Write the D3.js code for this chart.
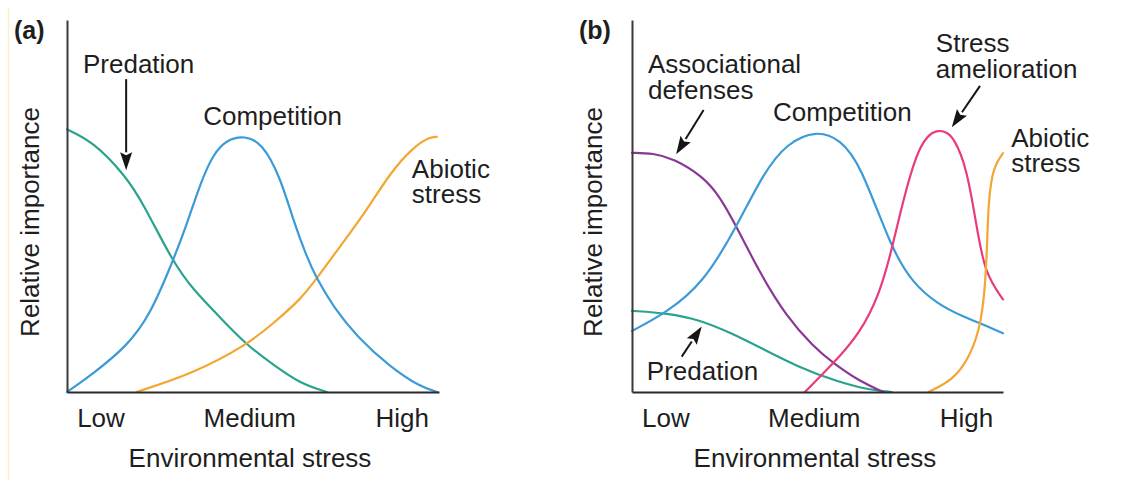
<!DOCTYPE html>
<html>
<head>
<meta charset="utf-8">
<script src="https://cdn.jsdelivr.net/npm/d3@7"></script>
<style>
  html, body { margin: 0; padding: 0; background: #ffffff; }
  svg { display: block; }
  text { font-family: "Liberation Sans", Arial, Helvetica, sans-serif; fill: #1e1e1e; }
</style>
</head>
<body>
<script>
// Shared x-axis categories (positions on a 0–100 stress scale)
const xTickPositions = [9, 49, 90];
const xTickLabels = ["Low", "Medium", "High"];

// Panel (a): relative importance (0–100) along environmental stress (0–100)
const predationA = [[0, 70.6], [7, 67.3], [15.6, 58.3], [20.5, 50.7], [28.4, 35.0], [34, 27.4],
  [41, 20.2], [48.3, 12.6], [55.5, 7.3], [62.6, 2.3], [69.8, 0]];
const competitionA = [[0, 0], [7.1, 5.0], [16, 12.2], [22.3, 20.6], [28.3, 34.8], [32.2, 45.0],
  [35.8, 56.0], [39.3, 64.0], [43, 67.9], [47.8, 68.9], [52.4, 67.0], [57.3, 57.9],
  [60.8, 46.2], [64.4, 36.4], [67.1, 30.5], [71.6, 22.9], [77.9, 14.9], [86.8, 6.8],
  [94.9, 1.4], [99.5, 0]];
const abioticA = [[18.7, 0], [34, 5.0], [48.3, 12.6], [55.5, 18.5], [62.6, 24.7], [67.1, 30.5],
  [73.4, 39.1], [80.6, 48.9], [86.8, 58.8], [93.1, 65.9], [97.6, 68.6], [99.4, 68.6]];

// Panel (b)
const associationalB = [[0, 64.3], [5.7, 64.2], [11.1, 62.8], [19.2, 57.9], [23.7, 52.5],
  [28.2, 44.4], [34.5, 31.9], [41.7, 20.2], [48.9, 12.2], [54.3, 7.7], [61.5, 2.8], [67.7, 0]];
const competitionB = [[0, 16.4], [9.4, 21.4], [19.2, 29.2], [28.2, 44.4], [35.4, 58.8],
  [41.7, 66.9], [49.8, 70.4], [56.1, 67.9], [61.5, 61.5], [70, 38.2], [75.8, 29.2],
  [82.1, 23.8], [89.3, 20.2], [94.3, 18.3], [100, 15.8]];
const ameliorationB = [[46.6, 0], [54.3, 7.7], [61.5, 15.8], [66.8, 26.5], [70, 38.2],
  [73.1, 51.6], [76.7, 64.2], [79.5, 68.8], [82.1, 70.4], [84.5, 70.0], [86.6, 68.6],
  [90.2, 60.6], [92.9, 44.4], [95.1, 31.9], [100, 24.9]];
const abioticB = [[79.9, 0], [86.6, 3.2], [91.1, 9.5], [94.3, 18.5], [95.6, 33.7],
  [96.0, 51.6], [97.4, 60.6], [100, 64.2]];
const predationB = [[0, 21.8], [9.4, 21.2], [18.3, 19.4], [26.9, 15.8], [35.8, 11.3],
  [44.7, 6.8], [55.2, 2.8], [64.2, 0.5], [70, 0]];

const colors = {
  predation: "#2aa38d",
  competition: "#3a9bd8",
  abiotic: "#f3a632",
  associational: "#8a3795",
  amelioration: "#e93a80"
};

const W = 1135, H = 486;
const svg = d3.select("body").append("svg").attr("width", W).attr("height", H);

// faint edge line on the far left
svg.append("line").attr("x1", 8.5).attr("x2", 8.5).attr("y1", 8).attr("y2", 480)
  .attr("stroke", "#fbf1c8").attr("stroke-width", 1.5);

function arrow(g, x, y, from, to) {
  const x1 = x(from[0]), y1 = y(from[1]), x2 = x(to[0]), y2 = y(to[1]);
  const ang = Math.atan2(y2 - y1, x2 - x1);
  const len = 18, half = 6;
  const bx = x2 - len * Math.cos(ang), by = y2 - len * Math.sin(ang);
  g.append("line").attr("x1", x1).attr("y1", y1).attr("x2", bx).attr("y2", by)
    .attr("stroke", "#151515").attr("stroke-width", 2);
  const px = -Math.sin(ang) * half, py = Math.cos(ang) * half;
  g.append("path")
    .attr("d", `M${x2},${y2}L${bx + px},${by + py}L${bx + 3 * Math.cos(ang)},${by + 3 * Math.sin(ang)}L${bx - px},${by - py}Z`)
    .attr("fill", "#151515");
}

function drawPanel(cfg) {
  const g = svg.append("g");
  const x = d3.scaleLinear().domain([0, 100]).range([cfg.x0, cfg.x1]);
  const y = d3.scaleLinear().domain([0, 100]).range([392, 20]);

  const line = d3.line()
    .x(d => x(d[0])).y(d => y(d[1]))
    .curve(d3.curveBasis);

  cfg.series.forEach(s => {
    g.append("path").datum(s.values)
      .attr("d", line)
      .attr("fill", "none")
      .attr("stroke", s.color)
      .attr("stroke-width", 2.2)
      .attr("stroke-linecap", "round");
  });

  // axes
  const xAxis = d3.axisBottom(x).tickValues(xTickPositions)
    .tickFormat((d, i) => xTickLabels[i]).tickSize(0).tickSizeOuter(0);
  const gx = g.append("g").attr("transform", `translate(0,${y(0)})`).call(xAxis);
  gx.select(".domain").attr("stroke", "#2a2a2a").attr("stroke-width", 2.2);
  gx.selectAll(".tick text")
    .attr("y", 35).attr("dy", 0)
    .style("font-size", "26px")
    .style("font-family", "'Liberation Sans', Arial, sans-serif")
    .attr("fill", "#1e1e1e");

  const yAxis = d3.axisLeft(y).tickValues([]).tickSize(0).tickSizeOuter(0);
  const gy = g.append("g").attr("transform", `translate(${x(0)},0)`).call(yAxis);
  gy.select(".domain").attr("stroke", "#3a3a3a").attr("stroke-width", 2);

  // axis titles
  g.append("text")
    .attr("transform", `translate(${cfg.yTitleX},222) rotate(-90)`)
    .attr("text-anchor", "middle")
    .style("font-size", "26px")
    .text("Relative importance");
  g.append("text")
    .attr("x", cfg.xTitleX).attr("y", 467)
    .attr("text-anchor", "middle")
    .style("font-size", "26px")
    .text("Environmental stress");

  // panel letter
  g.append("text")
    .attr("x", cfg.letterX).attr("y", 39)
    .style("font-size", "25px").style("font-weight", "bold")
    .text(cfg.letter);

  // curve labels, one text element per line
  cfg.labels.forEach(l => {
    l.lines.forEach((s, i) => {
      g.append("text")
        .attr("x", x(l.at[0])).attr("y", y(l.at[1]) + i * l.lead)
        .style("font-size", "26px")
        .text(s);
    });
  });

  cfg.arrows.forEach(a => arrow(g, x, y, a.from, a.to));
}

drawPanel({
  x0: 67, x1: 439, yTitleX: 39, xTitleX: 250, letterX: 14, letter: "(a)",
  series: [
    { values: predationA, color: colors.predation },
    { values: abioticA, color: colors.abiotic },
    { values: competitionA, color: colors.competition }
  ],
  labels: [
    { lines: ["Predation"], at: [4.3, 85.8], lead: 0 },
    { lines: ["Competition"], at: [36.6, 71.8], lead: 0 },
    { lines: ["Abiotic", "stress"], at: [92.7, 57.5], lead: 25 }
  ],
  arrows: [
    { from: [15.9, 84.1], to: [15.9, 59.6] }
  ]
});

drawPanel({
  x0: 632, x1: 1003, yTitleX: 602, xTitleX: 815, letterX: 579, letter: "(b)",
  series: [
    { values: predationB, color: colors.predation },
    { values: associationalB, color: colors.associational },
    { values: competitionB, color: colors.competition },
    { values: ameliorationB, color: colors.amelioration },
    { values: abioticB, color: colors.abiotic }
  ],
  labels: [
    { lines: ["Associational", "defenses"], at: [4.3, 85.8], lead: 26 },
    { lines: ["Competition"], at: [38.0, 72.8], lead: 0 },
    { lines: ["Stress", "amelioration"], at: [81.9, 91.4], lead: 26 },
    { lines: ["Abiotic", "stress"], at: [102.2, 65.9], lead: 25 },
    { lines: ["Predation"], at: [4.0, 3.2], lead: 0 }
  ],
  arrows: [
    { from: [19.3, 75.8], to: [11.9, 63.9] },
    { from: [93.8, 82.3], to: [86.2, 71.2] },
    { from: [13.4, 9.5], to: [18.8, 17.6] }
  ]
});
</script>
</body>
</html>
